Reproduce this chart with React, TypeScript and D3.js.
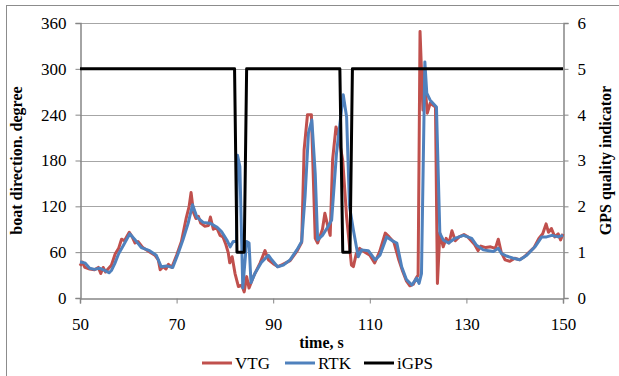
import React, { useEffect, useRef } from "react";
import * as d3 from "d3";

// time (s) and heading (degree)
const vtgTime = [50, 50.5, 51, 52, 53, 53.8, 54.3, 54.8, 55.3, 55.8, 56.5, 57.3, 58, 58.6, 59.2, 60.2, 60.8, 61.4, 62, 63, 64.5, 65.5, 66.2, 66.6, 67.2, 67.8, 68.3, 69, 70, 71, 72, 72.6, 73, 73.5, 74, 74.5, 75, 75.8, 76.6, 77, 77.6, 78.3, 79, 79.6, 80.2, 80.7, 81, 81.5, 82.1, 82.8, 83.5, 84, 84.5, 85, 85.9, 87.3, 88.3, 89, 90, 91, 92, 93.5, 95, 95.9, 96.4, 97.1, 97.9, 98.7, 99.2, 100.2, 100.7, 101.3, 101.8, 102.3, 103, 103.5, 104.4, 105.2, 106.2, 106.6, 107.2, 107.9, 109, 110, 111, 112, 113.2, 114, 115, 116, 116.8, 117.6, 118.3, 119, 119.6, 120, 120.4, 121, 121.2, 121.9, 122.5, 123.6, 124, 124.5, 125.2, 125.8, 126.4, 127, 127.7, 128.5, 129.5, 130.3, 131, 131.7, 132.4, 133, 134, 135, 136, 136.6, 137.2, 138, 139, 140, 141, 142, 143, 144, 145, 145.8, 146.5, 147, 147.6, 148.3, 149, 149.5, 150];
const vtgValue = [42, 47, 40, 38, 37, 40, 32, 40, 34, 38, 43, 58, 65, 77, 75, 86, 80, 72, 74, 66, 60, 56, 50, 37, 41, 38, 44, 40, 56, 74, 105, 120, 138, 112, 104, 107, 98, 94, 95, 106, 90, 92, 82, 80, 70, 59, 46, 54, 32, 15, 17, 8, 28, 13, 28, 46, 62, 50, 45, 41, 44, 49, 62, 73, 194, 240, 240, 78, 72, 90, 111, 94, 82, 181, 224, 213, 180, 106, 43, 41, 58, 65, 60, 56, 46, 60, 85, 80, 73, 50, 35, 22, 16, 18, 26, 30, 349, 246, 298, 242, 255, 250, 19, 85, 67, 78, 72, 88, 75, 80, 83, 80, 75, 70, 62, 68, 66, 67, 65, 77, 60, 50, 48, 52, 50, 54, 60, 66, 78, 84, 97, 86, 91, 80, 84, 76, 84];

const rtkTime = [50, 51, 52, 53, 54, 55, 56, 56.5, 57.2, 58, 59, 60.3, 61.3, 62.7, 64.4, 65.8, 66.8, 67.9, 69.2, 70.3, 71.3, 72.4, 73.3, 74.2, 75.5, 76.9, 78.3, 79.3, 80.4, 81.1, 81.7, 82.4, 82.6, 83.1, 83.7, 84.5, 85, 85.4, 86.2, 87.6, 89, 89.7, 90.9, 92.1, 93.5, 94.9, 95.9, 96.6, 97.3, 98, 98.7, 99.2, 100.2, 101.2, 102.1, 103.1, 104.5, 105.2, 105.8, 106.6, 107.6, 108.3, 109.7, 111.1, 112.1, 113.5, 114.9, 115.6, 116.6, 117.6, 118.7, 119.7, 120.2, 120.7, 121.4, 121.8, 122.5, 123.8, 124.5, 125.2, 126.3, 127.6, 129.4, 131.1, 132.1, 133.5, 135.6, 136.6, 137.3, 138.3, 139.7, 141.1, 142.5, 144.2, 145.6, 146.6, 147.7, 149, 150];
const rtkValue = [47, 46, 39, 37.5, 39, 36.5, 33, 36, 45, 58, 69, 84, 77, 66, 62, 56, 41, 42, 40, 58, 76, 98, 122, 106, 99, 98, 93, 87, 76, 67, 74, 74, 187, 172, 13, 74, 72, 20, 32, 47, 56, 50, 41, 43, 50, 63, 74, 133, 216, 233, 163, 76, 82, 92, 102, 189, 266, 237, 120, 89, 54, 63, 62, 50, 56, 80, 74, 72, 41, 24, 17, 26, 19, 32, 309, 268, 259, 250, 85, 76, 72, 78, 82, 78, 69, 63, 61, 65, 58, 55, 52, 50, 56, 67, 80, 80, 82, 80, 82];

// GPS quality indicator (right axis)
const gpsTime = [50, 82, 82.5, 84, 84.5, 103.8, 104.4, 105.9, 106.4, 150];
const gpsValue = [5, 5, 1, 1, 5, 5, 1, 1, 5, 5];

const leftTicks = [0, 60, 120, 180, 240, 300, 360];
const rightTicks = [0, 1, 2, 3, 4, 5, 6];
const xTicks = [50, 70, 90, 110, 130, 150];

const seriesNames = ["VTG", "RTK", "iGPS"];
const seriesColors = ["#C0504D", "#4F81BD", "#000000"];

const W = 619;
const H = 376;
const font = "Liberation Serif, Tinos, DejaVu Serif, serif";

const App = () => {
  const ref = useRef<SVGSVGElement>(null);

  useEffect(() => {
    const svg = d3.select(ref.current);
    svg.selectAll("*").remove();

    const left = 80,
      right = 563,
      top = 23,
      bottom = 298;

    const x = d3.scaleLinear().domain([50, 150]).range([left, right]);
    const yL = d3.scaleLinear().domain([0, 360]).range([bottom, top]);
    const yR = d3.scaleLinear().domain([0, 6]).range([bottom, top]);

    // outer frame
    svg
      .append("rect")
      .attr("x", 6.5)
      .attr("y", 5.5)
      .attr("width", 640)
      .attr("height", 400)
      .attr("fill", "white")
      .attr("stroke", "#8c8c8c");

    // gridlines
    svg
      .selectAll(".grid")
      .data(leftTicks.slice(1))
      .enter()
      .append("line")
      .attr("x1", left)
      .attr("x2", right)
      .attr("y1", (d) => Math.round(yL(d)) + 0.5)
      .attr("y2", (d) => Math.round(yL(d)) + 0.5)
      .attr("stroke", "#a6a6a6")
      .attr("stroke-width", 1);

    const axisColor = "#868686";

    // left axis
    const gl = svg.append("g").attr("transform", `translate(${left + 0.5},0)`);
    gl.call(
      d3.axisLeft(yL).tickValues(leftTicks).tickSize(5).tickPadding(9).tickFormat(d3.format("d"))
    );
    // right axis
    const gr = svg.append("g").attr("transform", `translate(${right + 0.5},0)`);
    gr.call(d3.axisRight(yR).tickValues(rightTicks).tickSize(5).tickPadding(9).tickFormat(d3.format("d")));
    // bottom axis
    const gb = svg.append("g").attr("transform", `translate(0,${bottom + 0.5})`);
    gb.call(d3.axisBottom(x).tickValues(xTicks).tickSize(5).tickPadding(14).tickFormat(d3.format("d")));

    [gl, gr, gb].forEach((g) => {
      g.attr("font-family", font).attr("font-size", 17);
      g.select(".domain").attr("stroke", axisColor).attr("stroke-width", 1.5);
      g.selectAll(".tick line").attr("stroke", axisColor);
      g.selectAll(".tick text").attr("fill", "#000");
    });

    // series
    const plot = (t: number[], v: number[], y: d3.ScaleLinear<number, number>, color: string) => {
      const line = d3
        .line<number>()
        .x((d, i) => x(t[i]))
        .y((d) => y(d));
      svg
        .append("path")
        .datum(v)
        .attr("d", line)
        .attr("fill", "none")
        .attr("stroke", color)
        .attr("stroke-width", 3)
        .attr("stroke-linejoin", "round");
    };
    plot(vtgTime, vtgValue, yL, seriesColors[0]);
    plot(rtkTime, rtkValue, yL, seriesColors[1]);
    plot(gpsTime, gpsValue, yR, seriesColors[2]);

    // axis titles
    svg
      .append("text")
      .attr("transform", `translate(22,${(top + bottom) / 2}) rotate(-90)`)
      .attr("text-anchor", "middle")
      .attr("font-family", font)
      .attr("font-weight", "bold")
      .attr("font-size", 16)
      .text("boat direction. degree");

    svg
      .append("text")
      .attr("transform", `translate(611,${(top + bottom) / 2}) rotate(-90)`)
      .attr("text-anchor", "middle")
      .attr("font-family", font)
      .attr("font-weight", "bold")
      .attr("font-size", 16)
      .text("GPS quality indicator");

    svg
      .append("text")
      .attr("x", (left + right) / 2)
      .attr("y", 348)
      .attr("text-anchor", "middle")
      .attr("font-family", font)
      .attr("font-weight", "bold")
      .attr("font-size", 16)
      .text("time, s");

    // legend
    const legendX = [202, 285, 364];
    const lg = svg
      .selectAll(".legend")
      .data(seriesNames)
      .enter()
      .append("g")
      .attr("transform", (d, i) => `translate(${legendX[i]},363)`);
    lg.append("line")
      .attr("x1", 0)
      .attr("x2", 30)
      .attr("stroke", (d, i) => seriesColors[i])
      .attr("stroke-width", 3);
    lg.append("text")
      .attr("x", 33)
      .attr("y", 5.5)
      .attr("font-family", font)
      .attr("font-size", 17)
      .text((d) => d);
  });

  return (
    <svg
      ref={ref}
      width={W}
      height={H}
      style={{ position: "absolute", left: 0, top: 0, background: "white" }}
    ></svg>
  );
};

export default App;
